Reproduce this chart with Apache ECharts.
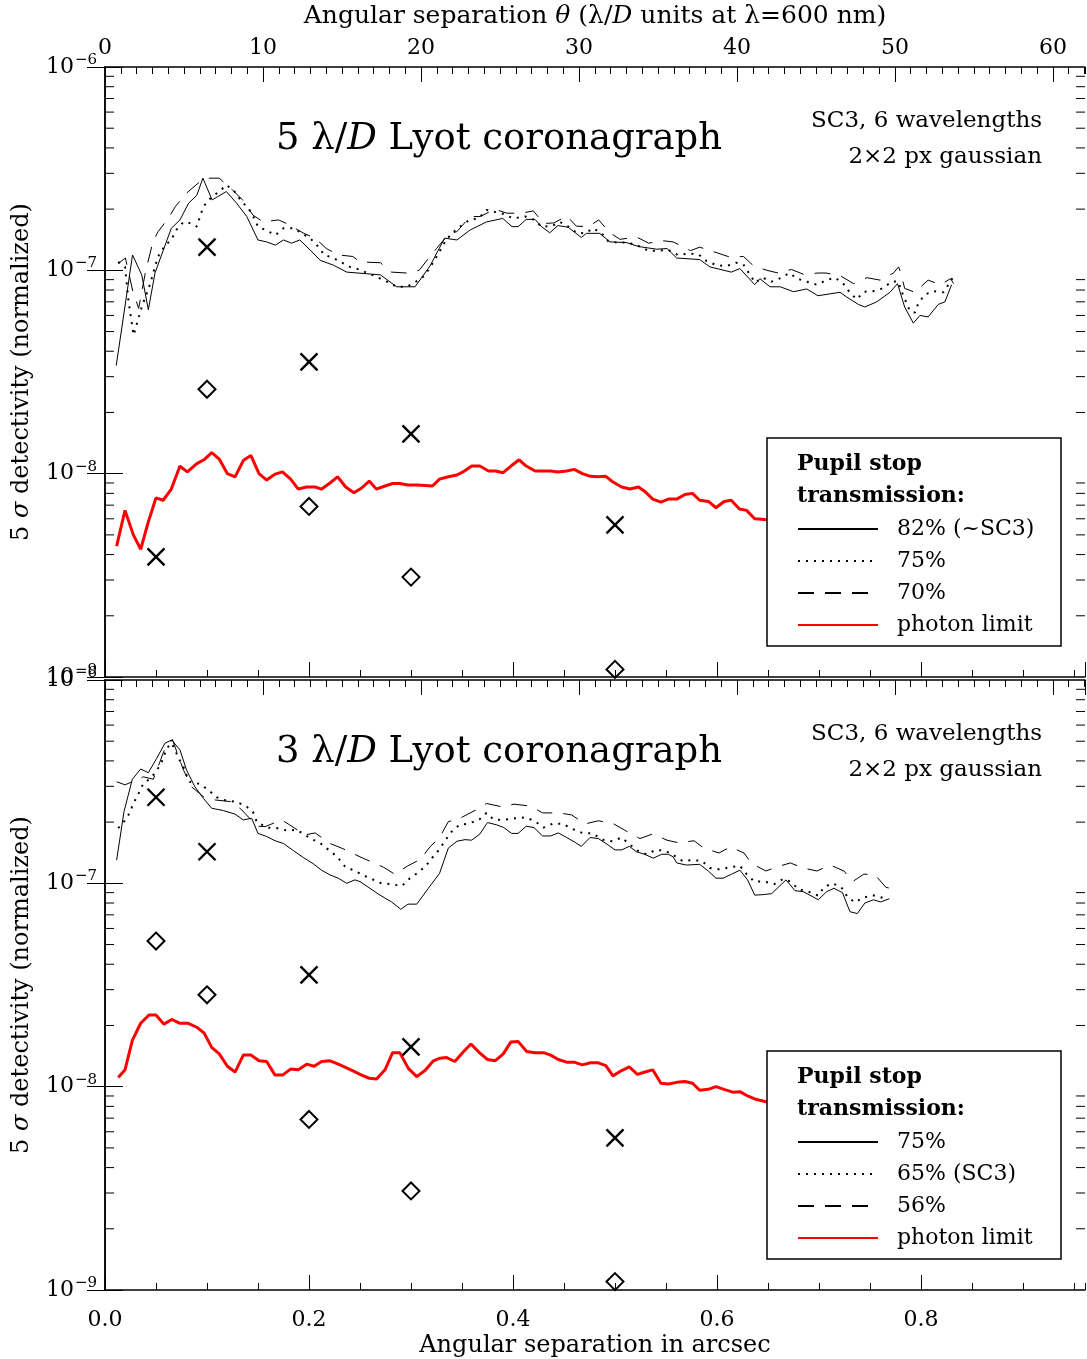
<!DOCTYPE html>
<html><head><meta charset="utf-8">
<script src="https://cdn.jsdelivr.net/npm/echarts@6/dist/echarts.min.js"></script>
<style>html,body{margin:0;padding:0;background:#fff}#c{width:1087px;height:1359px}</style>
</head><body><div id="c"></div>
<script>
const FONT = 'DejaVu Serif';
const ARC_MAX = 0.9608;   // right edge of the plot in arcsec
const LD_MAX = 62.03;     // same edge in lambda/D units

// ---------- top panel : 5 lambda/D Lyot ----------
const topSolid = [[0.011,3.4e-8],[0.027,1.19e-7],[0.036,9.5e-8],[0.0425,6.4e-8],[0.049,9.7e-8],[0.065,1.61e-7],[0.0735,1.77e-7],[0.082,2.14e-7],[0.090,2.34e-7],[0.096,2.84e-7],[0.105,2.22e-7],[0.119,2.44e-7],[0.129,2.14e-7],[0.139,1.84e-7],[0.150,1.41e-7],[0.1585,1.38e-7],[0.167,1.33e-7],[0.175,1.41e-7],[0.183,1.36e-7],[0.191,1.41e-7],[0.201,1.26e-7],[0.211,1.12e-7],[0.224,1.06e-7],[0.237,9.8e-8],[0.248,9.7e-8],[0.270,9.5e-8],[0.286,8.3e-8],[0.304,8.3e-8],[0.3186,1.05e-7],[0.333,1.44e-7],[0.345,1.41e-7],[0.358,1.58e-7],[0.374,1.73e-7],[0.390,1.80e-7],[0.399,1.64e-7],[0.405,1.64e-7],[0.413,1.78e-7],[0.4216,1.78e-7],[0.428,1.64e-7],[0.436,1.53e-7],[0.444,1.66e-7],[0.454,1.63e-7],[0.467,1.45e-7],[0.472,1.52e-7],[0.485,1.52e-7],[0.495,1.38e-7],[0.511,1.37e-7],[0.523,1.31e-7],[0.541,1.27e-7],[0.551,1.28e-7],[0.5605,1.15e-7],[0.583,1.13e-7],[0.593,1.04e-7],[0.614,9.8e-8],[0.6225,1.02e-7],[0.637,8.5e-8],[0.642,9.1e-8],[0.652,8.3e-8],[0.662,8.3e-8],[0.675,7.85e-8],[0.688,8.1e-8],[0.699,7.5e-8],[0.7206,7.8e-8],[0.727,7.4e-8],[0.7386,6.8e-8],[0.745,6.6e-8],[0.7566,7.0e-8],[0.7696,7.8e-8],[0.777,8.6e-8],[0.784,6.6e-8],[0.7925,5.5e-8],[0.799,6.0e-8],[0.807,5.9e-8],[0.817,6.8e-8],[0.8235,7.0e-8],[0.830,8.5e-8]];
const topDotted = [[0.013,1.10e-7],[0.0196,1.04e-7],[0.023,7.1e-8],[0.028,4.8e-8],[0.031,5.4e-8],[0.036,6.6e-8],[0.044,8.5e-8],[0.052,1.17e-7],[0.059,1.33e-7],[0.065,1.41e-7],[0.070,1.58e-7],[0.077,1.73e-7],[0.085,1.70e-7],[0.090,1.64e-7],[0.0964,2.06e-7],[0.1046,2.30e-7],[0.112,2.44e-7],[0.119,2.63e-7],[0.127,2.44e-7],[0.134,2.18e-7],[0.1405,2.02e-7],[0.1454,1.84e-7],[0.150,1.64e-7],[0.1585,1.57e-7],[0.167,1.49e-7],[0.175,1.61e-7],[0.185,1.61e-7],[0.193,1.52e-7],[0.201,1.44e-7],[0.209,1.31e-7],[0.215,1.19e-7],[0.224,1.15e-7],[0.231,1.10e-7],[0.240,1.04e-7],[0.249,1.01e-7],[0.262,9.5e-8],[0.2762,8.8e-8],[0.286,8.3e-8],[0.2958,8.3e-8],[0.3049,8.8e-8],[0.312,9.3e-8],[0.3186,1.03e-7],[0.3252,1.17e-7],[0.3333,1.38e-7],[0.3399,1.52e-7],[0.348,1.64e-7],[0.3572,1.77e-7],[0.366,1.80e-7],[0.3742,1.98e-7],[0.39,1.9e-7],[0.4003,1.80e-7],[0.4118,1.84e-7],[0.4199,1.78e-7],[0.4281,1.64e-7],[0.4379,1.65e-7],[0.4461,1.73e-7],[0.4542,1.64e-7],[0.4624,1.53e-7],[0.4706,1.52e-7],[0.4787,1.61e-7],[0.487,1.52e-7],[0.4934,1.39e-7],[0.5023,1.37e-7],[0.513,1.37e-7],[0.5228,1.32e-7],[0.5326,1.25e-7],[0.5409,1.25e-7],[0.5523,1.26e-7],[0.5615,1.19e-7],[0.5719,1.21e-7],[0.5817,1.20e-7],[0.5899,1.11e-7],[0.5997,1.06e-7],[0.6095,1.05e-7],[0.6186,1.09e-7],[0.6258,1.07e-7],[0.6373,8.7e-8],[0.6448,9.2e-8],[0.6536,8.8e-8],[0.6634,9.2e-8],[0.6709,9.7e-8],[0.6787,9.1e-8],[0.6879,8.8e-8],[0.6977,8.5e-8],[0.7075,8.95e-8],[0.7157,9.2e-8],[0.7238,8.6e-8],[0.7297,7.85e-8],[0.7369,7.2e-8],[0.7441,7.85e-8],[0.7532,7.9e-8],[0.7624,8.15e-8],[0.7713,8.8e-8],[0.7777,8.8e-8],[0.7811,7.85e-8],[0.7853,7.0e-8],[0.7892,6.3e-8],[0.7941,6.2e-8],[0.7974,6.9e-8],[0.8039,7.6e-8],[0.8121,7.9e-8],[0.8219,7.8e-8],[0.8277,8.6e-8],[0.8311,9.2e-8]];
const topDashed = [[0.013,1.08e-7],[0.02,1.15e-7],[0.027,8.0e-8],[0.033,6.5e-8],[0.040,1.0e-7],[0.047,1.38e-7],[0.052,1.55e-7],[0.062,1.80e-7],[0.069,2.06e-7],[0.080,2.40e-7],[0.092,2.70e-7],[0.100,2.84e-7],[0.112,2.84e-7],[0.125,2.48e-7],[0.135,2.22e-7],[0.145,1.87e-7],[0.155,1.73e-7],[0.170,1.77e-7],[0.178,1.70e-7],[0.195,1.52e-7],[0.206,1.44e-7],[0.217,1.28e-7],[0.229,1.19e-7],[0.243,1.17e-7],[0.250,1.10e-7],[0.270,1.09e-7],[0.281,9.8e-8],[0.296,9.7e-8],[0.308,1.0e-7],[0.318,1.16e-7],[0.325,1.28e-7],[0.337,1.51e-7],[0.345,1.55e-7],[0.358,1.84e-7],[0.368,1.84e-7],[0.382,2.0e-7],[0.394,1.91e-7],[0.408,1.91e-7],[0.420,1.96e-7],[0.430,1.70e-7],[0.440,1.71e-7],[0.453,1.85e-7],[0.462,1.65e-7],[0.474,1.64e-7],[0.484,1.77e-7],[0.495,1.53e-7],[0.505,1.42e-7],[0.521,1.46e-7],[0.533,1.36e-7],[0.546,1.40e-7],[0.557,1.38e-7],[0.574,1.25e-7],[0.583,1.30e-7],[0.600,1.22e-7],[0.613,1.16e-7],[0.626,1.17e-7],[0.636,1.05e-7],[0.649,1.0e-7],[0.660,9.7e-8],[0.673,1.01e-7],[0.685,9.55e-8],[0.699,9.7e-8],[0.707,9.7e-8],[0.721,9.4e-8],[0.734,8.6e-8],[0.747,9.2e-8],[0.760,8.95e-8],[0.773,9.7e-8],[0.778,1.04e-7],[0.780,9.8e-8],[0.784,8.15e-8],[0.794,7.8e-8],[0.807,8.95e-8],[0.819,8.5e-8],[0.829,9.1e-8],[0.832,8.6e-8]];
const topPhoton = [[0.0114,4.4e-9],[0.0196,6.6e-9],[0.0278,5.0e-9],[0.035,4.25e-9],[0.0425,5.8e-9],[0.050,7.6e-9],[0.057,7.4e-9],[0.065,8.4e-9],[0.0735,1.09e-8],[0.0807,1.02e-8],[0.090,1.12e-8],[0.097,1.17e-8],[0.1046,1.27e-8],[0.112,1.18e-8],[0.120,1.0e-8],[0.1275,9.65e-9],[0.1356,1.16e-8],[0.143,1.23e-8],[0.151,1.0e-8],[0.1585,9.3e-9],[0.1667,9.95e-9],[0.174,1.02e-8],[0.182,9.4e-9],[0.1895,8.4e-9],[0.1977,8.6e-9],[0.206,8.6e-9],[0.2124,8.4e-9],[0.2206,9.0e-9],[0.228,9.65e-9],[0.236,8.6e-9],[0.244,8.05e-9],[0.2516,8.5e-9],[0.259,9.2e-9],[0.266,8.4e-9],[0.2745,8.7e-9],[0.282,8.95e-9],[0.289,8.95e-9],[0.297,8.8e-9],[0.3056,8.8e-9],[0.314,8.75e-9],[0.321,8.7e-9],[0.328,9.4e-9],[0.3366,9.65e-9],[0.345,9.85e-9],[0.351,1.02e-8],[0.3595,1.09e-8],[0.3676,1.09e-8],[0.376,1.03e-8],[0.383,1.03e-8],[0.390,1.01e-8],[0.398,1.09e-8],[0.406,1.17e-8],[0.413,1.09e-8],[0.4216,1.03e-8],[0.430,1.03e-8],[0.437,1.03e-8],[0.444,1.02e-8],[0.4526,1.03e-8],[0.46,1.05e-8],[0.468,1.0e-8],[0.476,9.7e-9],[0.4837,9.65e-9],[0.491,9.7e-9],[0.498,9.1e-9],[0.5065,8.6e-9],[0.5147,8.4e-9],[0.523,8.6e-9],[0.529,8.2e-9],[0.537,7.5e-9],[0.545,7.25e-9],[0.5523,7.5e-9],[0.5605,7.5e-9],[0.5686,7.9e-9],[0.576,8.0e-9],[0.583,7.4e-9],[0.5915,7.3e-9],[0.599,6.8e-9],[0.607,7.3e-9],[0.614,7.4e-9],[0.622,6.7e-9],[0.629,6.6e-9],[0.637,6.0e-9],[0.647,5.95e-9],[0.66,5.9e-9]];
const topCrossSep = [0.05, 0.1, 0.2, 0.3, 0.5];
const topCross = [3.9e-9, 1.3e-7, 3.55e-8, 1.57e-8, 5.6e-9];
const topDiamondSep = [0.1, 0.2, 0.3, 0.5];
const topDiamond = [2.6e-8, 6.9e-9, 3.1e-9, 1.09e-9];

// ---------- bottom panel : 3 lambda/D Lyot ----------
const botSolid = [[0.0114,1.30e-7],[0.0186,2.25e-7],[0.0268,3.25e-7],[0.035,3.65e-7],[0.0425,3.5e-7],[0.0507,4.12e-7],[0.0588,4.89e-7],[0.0654,5.07e-7],[0.0735,4.53e-7],[0.080,3.6e-7],[0.0882,2.98e-7],[0.0964,2.62e-7],[0.1046,2.34e-7],[0.116,2.28e-7],[0.1275,2.19e-7],[0.1356,2.05e-7],[0.1438,2.09e-7],[0.150,1.76e-7],[0.1585,1.70e-7],[0.1667,1.62e-7],[0.175,1.57e-7],[0.1846,1.45e-7],[0.1944,1.34e-7],[0.204,1.25e-7],[0.2124,1.16e-7],[0.2206,1.10e-7],[0.2287,1.06e-7],[0.237,1.0e-7],[0.245,1.04e-7],[0.25,1.02e-7],[0.2696,8.75e-8],[0.281,8.1e-8],[0.29,7.45e-8],[0.297,7.9e-8],[0.3056,7.9e-8],[0.317,9.45e-8],[0.328,1.12e-7],[0.3366,1.49e-7],[0.345,1.61e-7],[0.353,1.64e-7],[0.3595,1.63e-7],[0.3676,1.75e-7],[0.375,1.99e-7],[0.384,1.94e-7],[0.391,1.88e-7],[0.3987,1.76e-7],[0.405,1.76e-7],[0.413,1.91e-7],[0.4206,1.88e-7],[0.429,1.71e-7],[0.437,1.71e-7],[0.4444,1.77e-7],[0.4526,1.68e-7],[0.46,1.60e-7],[0.467,1.52e-7],[0.4755,1.68e-7],[0.4837,1.66e-7],[0.492,1.56e-7],[0.50,1.46e-7],[0.5065,1.46e-7],[0.514,1.52e-7],[0.521,1.43e-7],[0.529,1.39e-7],[0.5376,1.33e-7],[0.5458,1.39e-7],[0.5523,1.39e-7],[0.557,1.35e-7],[0.5605,1.26e-7],[0.570,1.23e-7],[0.583,1.24e-7],[0.5915,1.15e-7],[0.599,1.06e-7],[0.606,1.06e-7],[0.6144,1.11e-7],[0.6225,1.16e-7],[0.63,1.04e-7],[0.637,8.75e-8],[0.6454,8.8e-8],[0.6536,8.9e-8],[0.66,9.55e-8],[0.6676,1.04e-7],[0.6765,9.2e-8],[0.6846,9.1e-8],[0.691,8.75e-8],[0.6993,8.3e-8],[0.7075,9.1e-8],[0.7147,9.45e-8],[0.723,9.0e-8],[0.7304,7.25e-8],[0.7376,7.1e-8],[0.745,8.0e-8],[0.7533,8.3e-8],[0.7605,8.1e-8],[0.769,8.4e-8]];
const botDotted = [[0.013,1.87e-7],[0.0186,2.01e-7],[0.024,2.21e-7],[0.0278,2.47e-7],[0.0327,2.75e-7],[0.0376,3.1e-7],[0.0434,3.25e-7],[0.0474,3.41e-7],[0.052,3.68e-7],[0.0556,3.96e-7],[0.0588,4.36e-7],[0.062,4.7e-7],[0.0654,4.89e-7],[0.0686,4.53e-7],[0.073,4.05e-7],[0.0768,3.75e-7],[0.079,3.48e-7],[0.083,3.16e-7],[0.093,3.08e-7],[0.1013,2.88e-7],[0.1095,2.65e-7],[0.119,2.55e-7],[0.129,2.52e-7],[0.139,2.38e-7],[0.145,2.25e-7],[0.1487,2.01e-7],[0.1585,1.88e-7],[0.168,1.87e-7],[0.178,1.82e-7],[0.188,1.83e-7],[0.196,1.73e-7],[0.204,1.64e-7],[0.2115,1.57e-7],[0.22,1.45e-7],[0.2278,1.35e-7],[0.2353,1.21e-7],[0.2434,1.16e-7],[0.256,1.08e-7],[0.271,1.0e-7],[0.281,9.9e-8],[0.291,9.7e-8],[0.299,1.06e-7],[0.307,1.13e-7],[0.3147,1.22e-7],[0.321,1.34e-7],[0.328,1.47e-7],[0.3333,1.62e-7],[0.34,1.80e-7],[0.3474,1.94e-7],[0.357,1.97e-7],[0.367,2.06e-7],[0.374,2.22e-7],[0.381,2.06e-7],[0.391,2.05e-7],[0.402,2.09e-7],[0.4124,2.11e-7],[0.4216,2.02e-7],[0.43,1.88e-7],[0.4395,1.97e-7],[0.4487,1.96e-7],[0.4585,1.85e-7],[0.468,1.77e-7],[0.478,1.76e-7],[0.488,1.64e-7],[0.4974,1.61e-7],[0.5065,1.68e-7],[0.514,1.56e-7],[0.522,1.45e-7],[0.531,1.39e-7],[0.54,1.46e-7],[0.549,1.45e-7],[0.557,1.38e-7],[0.566,1.29e-7],[0.576,1.30e-7],[0.585,1.29e-7],[0.593,1.19e-7],[0.603,1.17e-7],[0.6127,1.20e-7],[0.6225,1.22e-7],[0.629,1.11e-7],[0.6366,1.02e-7],[0.6464,1.02e-7],[0.656,9.9e-8],[0.665,1.05e-7],[0.672,1.02e-7],[0.680,9.35e-8],[0.6895,9.1e-8],[0.6993,8.7e-8],[0.705,9.6e-8],[0.7134,1.0e-7],[0.722,9.55e-8],[0.7277,8.6e-8],[0.7353,8.05e-8],[0.7435,8.5e-8],[0.7526,8.75e-8],[0.7624,8.5e-8],[0.768,8.4e-8]];
const botDashed = [[0.0114,3.16e-7],[0.0196,3.05e-7],[0.0376,3.34e-7],[0.0474,3.25e-7],[0.058,4.5e-7],[0.066,5.1e-7],[0.077,3.6e-7],[0.085,2.98e-7],[0.0964,2.67e-7],[0.108,2.57e-7],[0.124,2.52e-7],[0.134,2.30e-7],[0.149,1.91e-7],[0.157,1.90e-7],[0.173,2.05e-7],[0.181,1.94e-7],[0.196,1.73e-7],[0.206,1.77e-7],[0.2206,1.57e-7],[0.232,1.49e-7],[0.250,1.35e-7],[0.273,1.20e-7],[0.284,1.11e-7],[0.297,1.22e-7],[0.309,1.31e-7],[0.3186,1.51e-7],[0.328,1.68e-7],[0.3366,2.01e-7],[0.348,2.09e-7],[0.364,2.30e-7],[0.374,2.47e-7],[0.389,2.38e-7],[0.401,2.45e-7],[0.417,2.40e-7],[0.429,2.22e-7],[0.445,2.22e-7],[0.4575,2.17e-7],[0.4706,1.96e-7],[0.4837,2.03e-7],[0.498,1.97e-7],[0.51,1.82e-7],[0.5245,1.66e-7],[0.537,1.75e-7],[0.551,1.63e-7],[0.563,1.58e-7],[0.5775,1.62e-7],[0.587,1.49e-7],[0.602,1.41e-7],[0.613,1.51e-7],[0.6265,1.41e-7],[0.634,1.25e-7],[0.648,1.15e-7],[0.66,1.21e-7],[0.672,1.26e-7],[0.684,1.19e-7],[0.698,1.15e-7],[0.711,1.23e-7],[0.7245,1.15e-7],[0.733,1.02e-7],[0.744,1.11e-7],[0.755,1.10e-7],[0.7657,9.55e-8],[0.77,9.45e-8]];
const botPhoton = [[0.013,1.11e-8],[0.0196,1.21e-8],[0.0268,1.69e-8],[0.035,2.05e-8],[0.0431,2.25e-8],[0.05,2.25e-8],[0.0578,2.03e-8],[0.0654,2.14e-8],[0.0735,2.05e-8],[0.0817,2.05e-8],[0.09,1.96e-8],[0.097,1.84e-8],[0.1046,1.56e-8],[0.112,1.45e-8],[0.12,1.26e-8],[0.1275,1.18e-8],[0.1356,1.43e-8],[0.143,1.43e-8],[0.151,1.34e-8],[0.1585,1.33e-8],[0.1667,1.14e-8],[0.174,1.14e-8],[0.182,1.22e-8],[0.1895,1.21e-8],[0.1977,1.29e-8],[0.205,1.26e-8],[0.2124,1.33e-8],[0.2206,1.34e-8],[0.2287,1.29e-8],[0.2363,1.24e-8],[0.2441,1.19e-8],[0.2516,1.14e-8],[0.259,1.10e-8],[0.2663,1.09e-8],[0.2745,1.21e-8],[0.282,1.47e-8],[0.289,1.47e-8],[0.2974,1.23e-8],[0.3056,1.12e-8],[0.3137,1.20e-8],[0.322,1.34e-8],[0.3284,1.38e-8],[0.335,1.39e-8],[0.343,1.33e-8],[0.3516,1.49e-8],[0.3588,1.62e-8],[0.367,1.47e-8],[0.375,1.36e-8],[0.3824,1.34e-8],[0.3905,1.45e-8],[0.398,1.66e-8],[0.405,1.67e-8],[0.4134,1.49e-8],[0.4216,1.47e-8],[0.43,1.47e-8],[0.437,1.43e-8],[0.4444,1.36e-8],[0.4526,1.32e-8],[0.46,1.32e-8],[0.468,1.28e-8],[0.476,1.31e-8],[0.4837,1.31e-8],[0.491,1.27e-8],[0.498,1.13e-8],[0.5065,1.20e-8],[0.514,1.25e-8],[0.522,1.15e-8],[0.5294,1.18e-8],[0.537,1.21e-8],[0.545,1.04e-8],[0.5523,1.03e-8],[0.5605,1.05e-8],[0.5686,1.06e-8],[0.576,1.04e-8],[0.583,9.6e-9],[0.5915,9.7e-9],[0.599,1.0e-8],[0.607,9.7e-9],[0.6154,9.4e-9],[0.6225,9.45e-9],[0.63,9.0e-9],[0.637,8.7e-9],[0.647,8.45e-9],[0.66,8.2e-9]];
const botCrossSep = [0.05, 0.1, 0.2, 0.3, 0.5];
const botCross = [2.65e-7, 1.43e-7, 3.55e-8, 1.57e-8, 5.6e-9];
const botDiamondSep = [0.05, 0.1, 0.2, 0.3, 0.5];
const botDiamond = [5.2e-8, 2.83e-8, 6.9e-9, 3.07e-9, 1.1e-9];

const topLegendNames = ['82% (~SC3)', '75%', '70%', 'photon limit'];
const botLegendNames = ['75%', '65% (SC3)', '56%', 'photon limit'];
const ZW = '\u200b';
const botNames = botLegendNames.map(n => n + ZW);

// minor log ticks 2..9 x 10^n
const minorLogTicks = [];
for (let e = -9; e <= -7; e++) for (let k = 2; k <= 9; k++) minorLogTicks.push(k * Math.pow(10, e));

const black = '#000';
const txt = {fontFamily: FONT, color: black};
const GRIDS = [{left: 105, top: 67, width: 980, height: 610}, {left: 105, top: 680, width: 980, height: 610}];

function xAxes(g, bottomLabels, topLabels) {
  const line = {show: true, lineStyle: {color: black, width: 1.5}};
  return [
    {gridIndex: g, type: 'value', position: 'bottom', min: 0, max: ARC_MAX, interval: 0.2,
     axisLine: line, axisTick: {show: true, inside: true, length: 15, lineStyle: {color: black, width: 1}},
     axisLabel: {show: bottomLabels, showMaxLabel: false, margin: 19, formatter: v => v.toFixed(1), fontSize: 22, ...txt},
     splitLine: {show: false},
     name: bottomLabels ? 'Angular separation in arcsec' : '', nameLocation: 'middle', nameGap: 44,
     nameTextStyle: {fontSize: 24, ...txt}},
    {gridIndex: g, type: 'value', position: 'bottom', min: 0, max: ARC_MAX, interval: 0.05,
     axisLine: {show: false}, axisTick: {show: true, inside: true, length: 7, lineStyle: {color: black, width: 1}},
     axisLabel: {show: false}, splitLine: {show: false}},
    {gridIndex: g, type: 'value', position: 'top', min: 0, max: LD_MAX, interval: 10,
     axisLine: line, axisTick: {show: true, inside: true, length: 15, lineStyle: {color: black, width: 1}},
     axisLabel: {show: topLabels, showMaxLabel: false, margin: 8, fontSize: 22, ...txt},
     splitLine: {show: false},
     name: topLabels ? '{n|Angular separation }{i|θ}{n| (λ/}{i|D}{n| units at λ=600 nm)}' : '',
     nameLocation: 'middle', nameGap: 38,
     nameTextStyle: {fontSize: 25, ...txt, rich: {n: {fontSize: 25, ...txt}, i: {fontSize: 25, fontStyle: 'italic', ...txt}}}},
    {gridIndex: g, type: 'value', position: 'top', min: 0, max: LD_MAX, interval: 1,
     axisLine: {show: false}, axisTick: {show: true, inside: true, length: 7, lineStyle: {color: black, width: 1}},
     axisLabel: {show: false}, splitLine: {show: false}}
  ];
}
function yAxes(g) {
  const common = {gridIndex: g, type: 'log', logBase: 10, min: 1e-9, max: 1e-6, splitNumber: 3,
    axisLine: {show: true, lineStyle: {color: black, width: 1.5}},
    axisTick: {show: true, inside: true, length: 18, lineStyle: {color: black, width: 1}},
    splitLine: {show: false}, minorTick: {show: false}};
  return [
    {...common, position: 'left',
     axisLabel: {show: true, margin: 8, formatter: v => '{b|10}{s|−' + Math.round(-Math.log10(v)) + '}',
       rich: {b: {fontSize: 22, ...txt}, s: {fontSize: 15, padding: [0, 0, 14, 1], ...txt}}},
     name: '{n|5 }{i|σ}{n| detectivity (normalized)}', nameLocation: 'middle', nameGap: 71, nameRotate: 90,
     nameTextStyle: {fontSize: 24, ...txt, rich: {n: {fontSize: 24, ...txt}, i: {fontSize: 24, fontStyle: 'italic', ...txt}}}},
    {...common, position: 'right', axisLabel: {show: false}}
  ];
}

function lineSeries(name, data, xi, yi, style) {
  return {type: 'line', name, data, xAxisIndex: xi, yAxisIndex: yi, symbol: 'none', silent: true,
    animation: false, z: 3, lineStyle: style, itemStyle: {color: style.color}};
}
const solidS = {color: black, width: 1, type: 'solid'};
const dotS = {color: black, width: 2, type: [2, 6], cap: 'butt'};
const dashS = {color: black, width: 1, type: [16, 11]};
const redS = {color: '#ff0000', width: 3, type: 'solid'};

function minorTickSeries(xi, yi) {
  return {type: 'custom', xAxisIndex: xi, yAxisIndex: yi, silent: true, clip: false, z: 1, animation: false,
    data: minorLogTicks.map(v => [0.5, v]),
    renderItem: (params, api) => {
      const cs = params.coordSys;
      const y = api.coord([0.5, api.value(1)])[1];
      return {type: 'group', children: [
        {type: 'line', shape: {x1: cs.x, y1: y, x2: cs.x + 9, y2: y}, style: {stroke: black, lineWidth: 1}},
        {type: 'line', shape: {x1: cs.x + cs.width - 9, y1: y, x2: cs.x + cs.width, y2: y}, style: {stroke: black, lineWidth: 1}}
      ]};
    }};
}
const crossPath = 'path://M0 0L20 20M20 0L0 20';
function markerSeries(sep, vals, xi, yi, symbol) {
  return {type: 'scatter', xAxisIndex: xi, yAxisIndex: yi, silent: true, animation: false, z: 4,
    data: sep.map((s, i) => [s, vals[i]]), symbol, symbolSize: symbol === 'diamond' ? 17 : 17,
    itemStyle: {color: 'rgba(0,0,0,0)', borderColor: black, borderWidth: symbol === 'diamond' ? 2 : 2.4, opacity: 1}};
}

function legendFor(top, names) {
  return {show: true, orient: 'vertical', left: 797, top, padding: 0, itemGap: 0, itemWidth: 80, itemHeight: 40,
    data: names, selectedMode: false, z: 20,
    itemStyle: {opacity: 0}, lineStyle: {opacity: 1},
    formatter: n => '{t|' + n.replace(ZW, '') + '}',
    textStyle: {fontSize: 22, ...txt, rich: {t: {fontSize: 22, padding: [0, 0, 0, 14], ...txt}}}};
}

function panelGraphics(dy, title) {
  const big = '37px ' + FONT, bigI = 'italic 37px ' + FONT, med = '23px ' + FONT;
  return [
    {type: 'text', x: 499, y: 139 + dy, z: 21, style: {text: '{n|' + title + ' λ/}{i|D}{n| Lyot coronagraph}',
      align: 'center', verticalAlign: 'middle', rich: {n: {font: big, fill: black}, i: {font: bigI, fill: black}}}},
    {type: 'text', x: 1042, y: 121 + dy, z: 21, style: {text: 'SC3, 6 wavelengths', font: med, fill: black, align: 'right', verticalAlign: 'middle'}},
    {type: 'text', x: 1042, y: 157 + dy, z: 21, style: {text: '2×2 px gaussian', font: med, fill: black, align: 'right', verticalAlign: 'middle'}},
    {type: 'rect', z: 10, shape: {x: 767, y: 438 + dy, width: 294, height: 208}, style: {fill: '#fff', stroke: black, lineWidth: 1.5}},
    {type: 'text', x: 797, y: 464 + dy, z: 21, style: {text: 'Pupil stop', font: 'bold 22px ' + FONT, fill: black, align: 'left', verticalAlign: 'middle'}},
    {type: 'text', x: 797, y: 496 + dy, z: 21, style: {text: 'transmission:', font: 'bold 22px ' + FONT, fill: black, align: 'left', verticalAlign: 'middle'}}
  ];
}

const chart = echarts.init(document.getElementById('c'), null, {renderer: 'canvas'});
chart.setOption({
  backgroundColor: '#fff',
  animation: false,
  grid: GRIDS,
  xAxis: [...xAxes(0, false, true), ...xAxes(1, true, false)],
  yAxis: [...yAxes(0), ...yAxes(1)],
  legend: [legendFor(513, topLegendNames), legendFor(1126, botNames)],
  series: [
    minorTickSeries(0, 0),
    lineSeries(topLegendNames[0], topSolid, 0, 0, solidS),
    lineSeries(topLegendNames[1], topDotted, 0, 0, dotS),
    lineSeries(topLegendNames[2], topDashed, 0, 0, dashS),
    lineSeries(topLegendNames[3], topPhoton, 0, 0, redS),
    markerSeries(topCrossSep, topCross, 0, 0, crossPath),
    markerSeries(topDiamondSep, topDiamond, 0, 0, 'diamond'),
    minorTickSeries(4, 2),
    lineSeries(botNames[0], botSolid, 4, 2, solidS),
    lineSeries(botNames[1], botDotted, 4, 2, dotS),
    lineSeries(botNames[2], botDashed, 4, 2, dashS),
    lineSeries(botNames[3], botPhoton, 4, 2, redS),
    markerSeries(botCrossSep, botCross, 4, 2, crossPath),
    markerSeries(botDiamondSep, botDiamond, 4, 2, 'diamond')
  ],
  graphic: {elements: [...panelGraphics(0, '5'), ...panelGraphics(613, '3')]}
});
</script></body></html>
